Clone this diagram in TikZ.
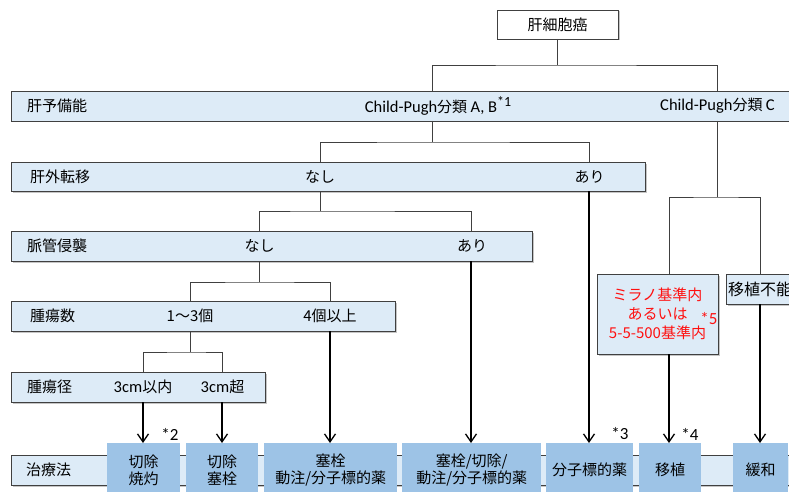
\documentclass[tikz,border=0pt]{standalone}
\usepackage{fontspec}
\setmainfont{Noto Sans CJK JP}
\newfontfamily\lat{Carlito}
\newcommand{\la}[1]{{\lat\fontsize{16.5}{18}\selectfont #1}}
\usetikzlibrary{arrows.meta,shadows}
\definecolor{bandfill}{HTML}{DDEBF7}
\definecolor{treatfill}{HTML}{9DC3E6}
\definecolor{edgec}{HTML}{404040}
\definecolor{redtext}{HTML}{FF1010}
\begin{document}
\begin{tikzpicture}[x=1pt,y=-1pt,
  font=\fontsize{15}{18}\selectfont,
  box/.style={draw=edgec, line width=0.9pt, inner sep=0pt, outer sep=0pt,
    drop shadow={shadow xshift=1.5pt, shadow yshift=-1.5pt, fill=black!45, opacity=0.5}},
  band/.style={box, fill=bandfill, anchor=north west, minimum height=30pt},
  treat/.style={fill=treatfill, anchor=north west, minimum height=54pt, inner sep=0pt, align=center, font=\fontsize{15}{17.5}\selectfont},
  lbl/.style={inner sep=0pt},
  conn/.style={draw=edgec, line width=0.9pt},
  arr/.style={draw=black, line width=1.3pt, -{Straight Barb[length=8pt,width=11pt]}},
  fn/.style={inner sep=0pt, font=\lat\fontsize{17}{17}\selectfont}]
\useasboundingbox (0,0) rectangle (789,492);
\clip (0,0) rectangle (789,492);

% branch coordinates
\coordinate (xab) at (432,0);
\coordinate (xc) at (717,0);
\coordinate (xn1) at (320,0);
\coordinate (xa1) at (589,0);
\coordinate (xn2) at (259,0);
\coordinate (xa2) at (471,0);
\coordinate (xn13) at (190,0);
\coordinate (xn4) at (330,0);
\coordinate (xin) at (143,0);
\coordinate (xov) at (222,0);
\coordinate (xmi) at (669,0);
\coordinate (xfu) at (760,0);

% root
\node[box, fill=white, minimum width=121pt, minimum height=29pt] (root) at (557.5,24.5) {肝細胞癌};

% bands
\node[band, minimum width=800pt] (b1) at (11,91) {};
\node[band, minimum width=634pt, minimum height=29pt] (b2) at (11,162) {};
\node[band, minimum width=521pt] (b3) at (11,231) {};
\node[band, minimum width=384pt] (b4) at (11,301) {};
\node[band, minimum width=254pt] (b5) at (11,372) {};
\node[band, minimum width=800pt] (b6) at (11,455) {};

% band labels
\node[lbl, anchor=west] (t1) at (27,106) {肝予備能};
\node[lbl] (cpab) at (438,106) {\la{Child-Pugh}分類 \la{A, B}\raisebox{0.45em}{\lat\fontsize{14}{14}\selectfont *1}};
\node[lbl, anchor=west] (cpc) at (660,106) {\la{Child-Pugh}分類 \la{C}};

\node[lbl, anchor=west] (t2) at (30,176.5) {肝外転移};
\node[lbl] (n1) at (320,176.5) {なし};
\node[lbl] (a1) at (589.5,176.5) {あり};

\node[lbl, anchor=west] (t3) at (27,246) {脈管侵襲};
\node[lbl] (n2) at (259.5,246) {なし};
\node[lbl] (a2) at (472,246) {あり};

\node[lbl, anchor=west] (t4) at (30,316) {腫瘍数};
\node[lbl] (n13) at (190,316) {1～3個};
\node[lbl] (n4) at (330,316) {4個以上};

\node[lbl, anchor=west] (t5) at (27,387) {腫瘍径};
\node[lbl] (in3) at (143,387) {\la{3cm}以内};
\node[lbl] (ov3) at (222.5,387) {\la{3cm}超};

\node[lbl, anchor=west] (t6) at (26,470) {治療法};

% Child-Pugh C branch boxes
\node[box, fill=bandfill, anchor=north west, minimum width=121pt, minimum height=80pt,
  text=redtext, align=center, font=\fontsize{15}{19}\selectfont] (milan) at (597,274)
  {ミラノ基準内\\あるいは\\5-5-500基準内};
\node[fn, text=redtext] (fn5) at (709,319) {*5};
\node[box, fill=bandfill, anchor=north west, minimum width=90pt, minimum height=30pt] (funo) at (726,274) {};
\node[lbl, anchor=west, font=\fontsize{16}{16}\selectfont] (funot) at (728,289) {移植不能};

% treatment boxes
\node[treat, minimum width=73pt] (r1) at (107,443) {切除\\焼灼};
\node[treat, minimum width=72pt] (r2) at (186,443) {切除\\塞栓};
\node[treat, minimum width=133pt] (r3) at (264,443) {塞栓\\動注/分子標的薬};
\node[treat, minimum width=139pt] (r4) at (402,443) {塞栓/切除/\\動注/分子標的薬};
\node[treat, minimum width=87pt] (r5) at (546,443) {分子標的薬};
\node[treat, minimum width=62pt] (r6) at (639,443) {移植};
\node[treat, minimum width=55pt] (r7) at (733,443) {緩和};

% footnotes
\node[fn] (fn2) at (170,434) {*2};
\node[fn] (fn3) at (620,434) {*3};
\node[fn] (fn4) at (690,434) {*4};

% connectors
\draw[conn] (root.south) -- ++(0,26) coordinate (j0);
\draw[conn] (xab |- b1.north) |- (j0) -| (xc |- b1.north);

\draw[conn] (xab |- b1.south) -- ++(0,21) coordinate (j1);
\draw[conn] (xn1 |- b2.north) |- (j1) -| (xa1 |- b2.north);

\draw[conn] (xc |- b1.south) -- (xc |- 0,197) coordinate (j2);
\draw[conn] (xmi |- milan.north) |- (j2) -| (xfu |- funo.north);

\draw[conn] (xn1 |- b2.south) -- ++(0,20) coordinate (j3);
\draw[conn] (xn2 |- b3.north) |- (j3) -| (xa2 |- b3.north);

\draw[conn] (xn2 |- b3.south) -- ++(0,21) coordinate (j4);
\draw[conn] (xn13 |- b4.north) |- (j4) -| (xn4 |- b4.north);

\draw[conn] (xn13 |- b4.south) -- ++(0,21) coordinate (j5);
\draw[conn] (xin |- b5.north) |- (j5) -| (xov |- b5.north);

% arrows
\draw[arr] (xin |- b5.south) -- (xin |- r1.north);
\draw[arr] (xov |- b5.south) -- (xov |- r2.north);
\draw[arr] (xn4 |- b4.south) -- (xn4 |- r3.north);
\draw[arr] (xa2 |- b3.south) -- (xa2 |- r4.north);
\draw[arr] (xa1 |- b2.south) -- (xa1 |- r5.north);
\draw[arr] (xmi |- milan.south) -- (xmi |- r6.north);
\draw[arr] (xfu |- funo.south) -- (xfu |- r7.north);
\end{tikzpicture}
\end{document}
